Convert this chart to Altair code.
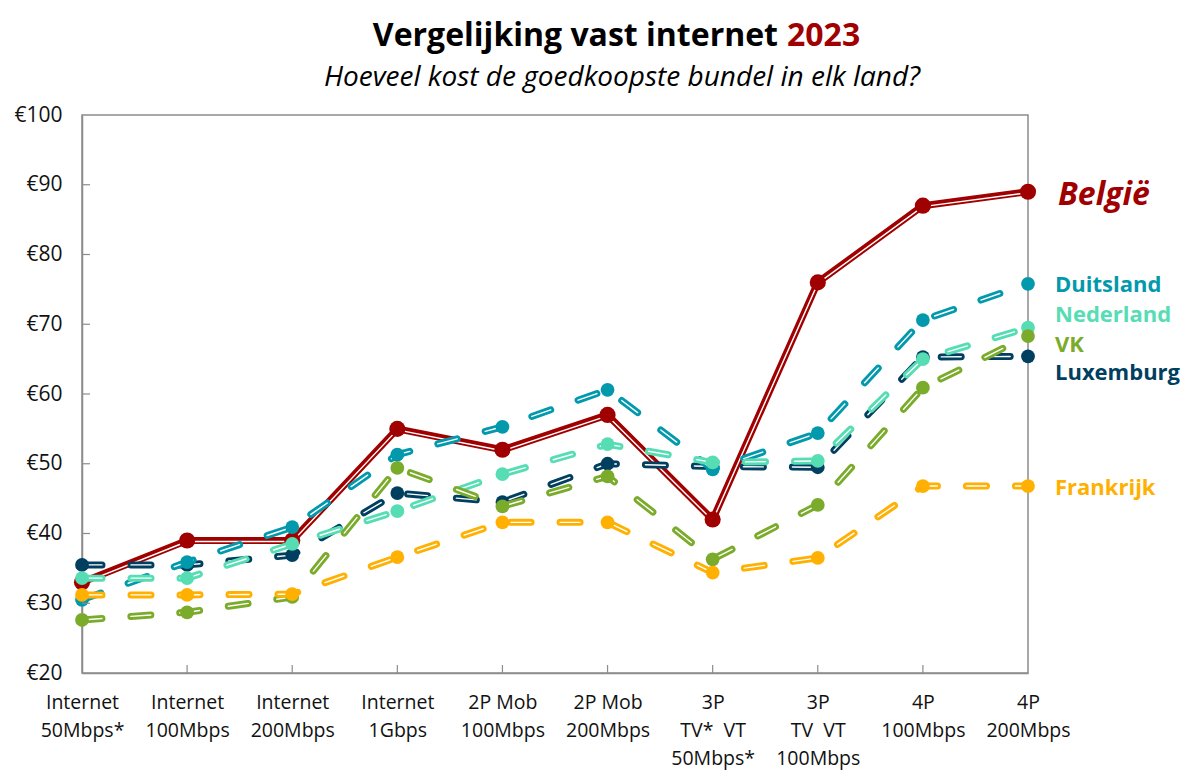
import altair as alt
import pandas as pd

# ---------------- data ----------------
categories = [
    "Internet|50Mbps*", "Internet|100Mbps", "Internet|200Mbps", "Internet|1Gbps",
    "2P Mob|100Mbps", "2P Mob|200Mbps", "3P|TV*\u00a0 VT|50Mbps*", "3P|TV\u00a0 VT|100Mbps",
    "4P|100Mbps", "4P|200Mbps",
]
belgie    = [33.0, 39.0, 39.0, 55.0, 52.0, 57.0, 42.0, 76.0, 87.0, 89.0]
duitsland = [30.5, 35.9, 40.9, 51.3, 55.3, 60.6, 49.2, 54.4, 70.6, 75.8]
nederland = [33.6, 33.6, 38.5, 43.2, 48.5, 52.8, 50.2, 50.4, 65.0, 69.5]
vk        = [27.6, 28.7, 30.9, 49.4, 43.9, 48.2, 36.3, 44.1, 60.9, 68.3]
luxemburg = [35.5, 35.5, 36.9, 45.8, 44.5, 50.0, 49.6, 49.5, 65.3, 65.4]
frankrijk = [31.2, 31.2, 31.3, 36.6, 41.6, 41.6, 34.4, 36.5, 46.8, 46.8]

countries = ["België", "Luxemburg", "Duitsland", "Nederland", "VK", "Frankrijk"]
series = [belgie, luxemburg, duitsland, nederland, vk, frankrijk]
colors = ["#A00000", "#003F5F", "#0399AC", "#57DDB4", "#7AAB2B", "#FFB000"]

label_names = ["België", "Duitsland", "Nederland", "VK", "Luxemburg", "Frankrijk"]
label_vals = [88.6, 75.6, 71.3, 67.0, 63.0, 46.5]
label_colors = ["#A00000", "#0399AC", "#57DDB4", "#7AAB2B", "#003F5F", "#FFB000"]

y_ticks = [20, 30, 40, 50, 60, 70, 80, 90, 100]
title_main = "Vergelijking vast internet"
title_year = "2023"
subtitle = "Hoeveel kost de goedkoopste bundel in elk land?"

FONT = "Open Sans"
W, H = 946, 558

rows = []
for name, vals in zip(countries, series):
    for c, v in zip(categories, vals):
        rows.append({"country": name, "cat": c, "val": v})
df = pd.DataFrame(rows)

x_enc = alt.X(
    "cat:N", sort=categories,
    scale=alt.Scale(type="point", padding=0),
    axis=alt.Axis(
        title=None, labelAngle=0, labelExpr="split(datum.label, '|')",
        labelFont=FONT, labelFontSize=19.5, labelColor="#111111", labelLineHeight=28,
        labelPadding=20, ticks=False, tickSize=0, domainColor="#8c8c8c", domainWidth=1.5,
        labelBound=False, labelOverlap=False, labelBaseline="top",
    ),
)
y_enc = alt.Y(
    "val:Q",
    scale=alt.Scale(domain=[20, 100], nice=False, zero=False),
    axis=alt.Axis(
        title=None, values=y_ticks, labelExpr="'€' + datum.value", grid=False,
        labelFont=FONT, labelFontSize=21, labelColor="#111111", labelPadding=20,
        ticks=False, tickSize=0, domainColor="#8c8c8c", domainWidth=1.5,
    ),
)

base = alt.Chart(df)
layers = []
for name, col in zip(countries, colors):
    sub = base.transform_filter(alt.datum.country == name)
    if name == "België":
        dash = {}
        w, ps = 7, 260
    else:
        dash = {"strokeDash": [20, 29]}
        w, ps = 7, 190
    layers.append(sub.mark_line(color=col, strokeWidth=w, strokeCap="round", strokeJoin="round", **dash)
                  .encode(x=x_enc, y=y_enc))
    layers.append(sub.mark_line(color="white", strokeWidth=1.4, strokeCap="round", strokeJoin="round",
                                yOffset=1 if name == "België" else 0, **dash)
                  .encode(x=x_enc, y=y_enc))
    layers.append(sub.mark_point(filled=True, shape="circle", size=ps, color=col, opacity=1)
                  .encode(x=x_enc, y=y_enc))

# inward tick marks
ytick_df = pd.DataFrame({"val": y_ticks[1:-1]})
layers.append(alt.Chart(ytick_df).mark_rule(color="#8c8c8c", strokeWidth=1.2)
              .encode(y=y_enc, x=alt.value(0), x2=alt.value(8)))
xtick_df = pd.DataFrame({"cat": categories[1:-1]})
layers.append(alt.Chart(xtick_df).mark_rule(color="#8c8c8c", strokeWidth=1.2)
              .encode(x=x_enc, y=alt.value(H - 8), y2=alt.value(H)))

# series labels at right
lab_df = pd.DataFrame({"name": label_names, "val": label_vals, "color": label_colors})
layers.append(alt.Chart(lab_df[lab_df.name == "België"]).mark_text(
    font=FONT, fontSize=32, fontWeight="bold", fontStyle="italic", align="left", baseline="middle",
    color="#A00000").encode(x=alt.value(976), y=y_enc, text="name:N"))
layers.append(alt.Chart(lab_df[lab_df.name != "België"]).mark_text(
    font=FONT, fontSize=22, fontWeight="bold", align="left", baseline="middle").encode(
    x=alt.value(973), y=y_enc, text="name:N",
    color=alt.Color("color:N", scale=None)))

# titles
layers.append(alt.Chart(pd.DataFrame({"t": [title_main]})).mark_text(
    font=FONT, fontSize=32, fontWeight="bold", align="right", baseline="middle", color="#000000"
).encode(x=alt.value(696), y=alt.value(-79), text="t:N"))
layers.append(alt.Chart(pd.DataFrame({"t": [title_year]})).mark_text(
    font=FONT, fontSize=32, fontWeight="bold", align="left", baseline="middle", color="#A00000"
).encode(x=alt.value(705), y=alt.value(-79), text="t:N"))
layers.append(alt.Chart(pd.DataFrame({"t": [subtitle]})).mark_text(
    font=FONT, fontSize=28, fontStyle="italic", align="center", baseline="middle", color="#000000"
).encode(x=alt.value(540), y=alt.value(-37), text="t:N"))

chart = alt.layer(*layers).properties(
    width=W, height=H,
    autosize=alt.AutoSizeParams(type="none"),
    padding={"left": 74, "top": 107, "right": 160, "bottom": 99},
    background="white",
).configure_view(stroke="#8c8c8c", strokeWidth=1.5)

chart.save("out.html", embed_options={"renderer": "svg", "actions": False})
